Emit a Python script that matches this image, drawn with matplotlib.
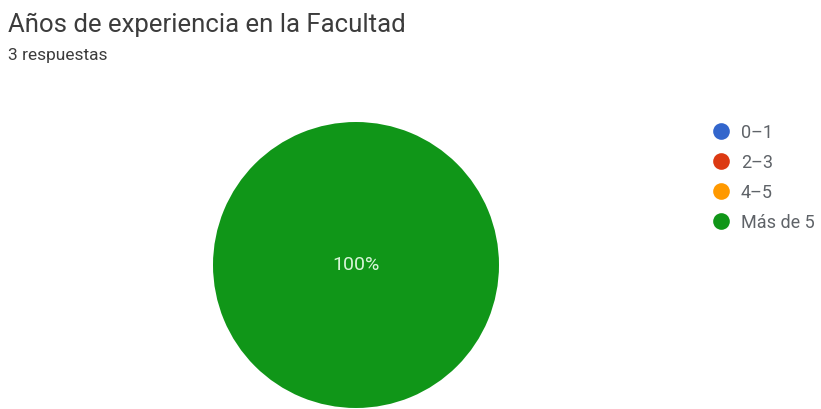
import matplotlib.pyplot as plt
from matplotlib.lines import Line2D

categorias = ['0–1', '2–3', '4–5', 'Más de 5']
respuestas = [0, 0, 0, 3]
colores = ['#3366CC', '#DC3912', '#FF9900', '#109618']

titulo = 'Años de experiencia en la Facultad'
subtitulo = '3 respuestas'

plt.rcParams['font.family'] = ['Roboto', 'DejaVu Sans']

W, H = 821, 409
fig = plt.figure(figsize=(W / 100, H / 100), dpi=100)
fig.text(8 / W, 1 - 32 / H, titulo, fontsize=18.5, color='#3c3c3c', va='baseline')
fig.text(8 / W, 1 - 60 / H, subtitulo, fontsize=12.5, color='#3c3c3c', va='baseline')

# pie centre ~ (356, 265) px, radius ~143 px
ax = fig.add_axes([(356 - 143) / W, (H - 265 - 143) / H, 286 / W, 286 / H])


def pct(p):
    return '%d%%' % round(p) if p > 0 else ''


wedges, textos, autotextos = ax.pie(respuestas, colors=colores, startangle=90, counterclock=False,
                                    autopct=pct, pctdistance=0, radius=1,
                                    wedgeprops=dict(linewidth=0))
for t in autotextos:
    t.set_color('#d8f5d8')
    t.set_fontsize(14)
ax.set_xlim(-1, 1)
ax.set_ylim(-1, 1)
ax.set_aspect('equal')
ax.axis('off')

# leyenda a la derecha, una fila cada 30 px
for i, (cat, c) in enumerate(zip(categorias, colores)):
    y = 1 - (131 + 30 * i) / H
    fig.add_artist(Line2D([721 / W], [y], marker='o', markersize=12, markerfacecolor=c,
                          markeredgewidth=0, linestyle='', transform=fig.transFigure))
    fig.text(741 / W, y, cat, fontsize=13, color='#5f6368', va='center_baseline')

fig.savefig('out.png', dpi=100, facecolor='white')
